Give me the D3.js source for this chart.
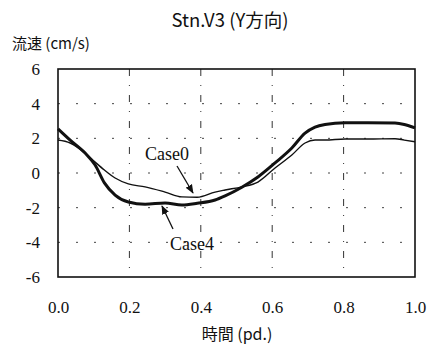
<!DOCTYPE html>
<html>
<head>
<meta charset="utf-8">
<script src="https://cdn.jsdelivr.net/npm/d3@7/dist/d3.min.js"></script>
<style>
  body { margin: 0; background: #fff; }
  text { fill: #111; }
</style>
</head>
<body>
<div id="chart"></div>
<script>
// Stn.V3 (Y direction) velocity over one period, Case0 vs Case4

const times = [0, 0.034, 0.076, 0.104, 0.13, 0.16, 0.197, 0.244, 0.30, 0.347, 0.39, 0.44, 0.468, 0.515, 0.56, 0.608, 0.655, 0.692, 0.72, 0.748, 0.804, 0.868, 0.944, 0.97, 1.0];
const case0 = [1.9, 1.73, 1.15, 0.63, 0.17, -0.29, -0.63, -0.8, -1.1, -1.38, -1.4, -1.1, -0.98, -0.8, -0.52, 0.29, 1.04, 1.73, 1.9, 1.9, 1.96, 1.96, 1.98, 1.9, 1.8];
const case4 = [2.55, 1.9, 1.15, 0.46, -0.57, -1.27, -1.67, -1.8, -1.73, -1.85, -1.75, -1.56, -1.32, -0.82, -0.23, 0.58, 1.44, 2.3, 2.65, 2.8, 2.9, 2.9, 2.88, 2.8, 2.6];
const xTicks = [0, 0.2, 0.4, 0.6, 0.8, 1.0];
const yTicks = [-6, -4, -2, 0, 2, 4, 6];

const serif = "'Liberation Serif', 'DejaVu Serif', serif";
const jp = "'Noto Sans CJK JP', 'DejaVu Sans', sans-serif";

const svg = d3.select("#chart").
append("svg").
attr("width", 427).
attr("height", 346);

const w = 427, h = 346;
const pL = 58, pR = 12, pT = 69, pB = 69; // plot box 58..415, 69..277

const xScale = d3.scaleLinear().domain([0, 1]).range([pL, w - pR]);
const yScale = d3.scaleLinear().domain([-6, 6]).range([h - pB, pT]);

// grid, broken lines like the scan
svg.append("g").
selectAll("line").
data(yTicks.filter(d => d > -6 && d < 6)).
join("line").
attr("x1", pL).
attr("x2", w - pR).
attr("y1", d => yScale(d)).
attr("y2", d => yScale(d)).
attr("stroke", "#444").
attr("stroke-width", 1).
attr("stroke-dasharray", "2,16");

svg.append("g").
selectAll("line").
data(xTicks.filter(d => d > 0 && d < 1)).
join("line").
attr("x1", d => xScale(d)).
attr("x2", d => xScale(d)).
attr("y1", pT).
attr("y2", h - pB).
attr("stroke", "#333").
attr("stroke-width", 1).
attr("stroke-dasharray", "7,9,1,9");

// axes: labels only, no tick marks
const xAxis = d3.axisBottom(xScale).tickValues(xTicks).tickFormat(d3.format(".1f")).tickSize(0).tickPadding(24);
const yAxis = d3.axisLeft(yScale).tickValues(yTicks).tickFormat(d => String(d)).tickSize(0).tickPadding(18);

const gx = svg.append("g").attr("transform", `translate(0 ${h - pB})`).call(xAxis);
const gy = svg.append("g").attr("transform", `translate(${pL} 0)`).call(yAxis);
[gx, gy].forEach(g => {
  g.select(".domain").remove();
  g.selectAll("text").
  style("font-family", serif).
  style("font-size", "17px").
  attr("fill", "#111");
});

// frame
svg.append("rect").
attr("x", pL).
attr("y", pT).
attr("width", w - pL - pR).
attr("height", h - pT - pB).
attr("fill", "none").
attr("stroke", "#111").
attr("stroke-width", 1.6);

// series
const line = d3.line().
x((d, i) => xScale(times[i])).
y(d => yScale(d)).
curve(d3.curveMonotoneX);

svg.append("path").
datum(case0).
attr("d", line).
attr("fill", "none").
attr("stroke", "#111").
attr("stroke-width", 1.4);

svg.append("path").
datum(case4).
attr("d", line).
attr("fill", "none").
attr("stroke", "#111").
attr("stroke-width", 3);

// annotations
svg.append("defs").append("marker").
attr("id", "arrow").
attr("viewBox", "0 0 10 10").
attr("refX", 9).
attr("refY", 5).
attr("markerWidth", 7).
attr("markerHeight", 7).
attr("orient", "auto").
append("path").
attr("d", "M0,1 L10,5 L0,9 Z").
attr("fill", "#111");

const notes = [
{ label: "Case0", tx: 167, ty: 160, x1: 177, y1: 166, x2: 193, y2: 193 },
{ label: "Case4", tx: 192, ty: 250, x1: 173, y1: 229, x2: 162, y2: 206 }];

notes.forEach(n => {
  svg.append("text").
  style("font-family", serif).
  attr("x", n.tx).
  attr("y", n.ty).
  attr("text-anchor", "middle").
  style("font-size", "18px").
  text(n.label);
  svg.append("line").
  attr("x1", n.x1).
  attr("y1", n.y1).
  attr("x2", n.x2).
  attr("y2", n.y2).
  attr("stroke", "#111").
  attr("stroke-width", 1.3).
  attr("marker-end", "url(#arrow)");
});

// titles
svg.append("text").
style("font-family", jp).
attr("x", 230).
attr("y", 27).
attr("text-anchor", "middle").
style("font-size", "18.5px").
text("Stn.V3 (Y方向)");

svg.append("text").
style("font-family", jp).
attr("x", 12).
attr("y", 49).
style("font-size", "15px").
text("流速 (cm/s)");

svg.append("text").
style("font-family", jp).
attr("x", 237).
attr("y", 340).
attr("text-anchor", "middle").
style("font-size", "16px").
text("時間 (pd.)");
</script>
</body>
</html>
